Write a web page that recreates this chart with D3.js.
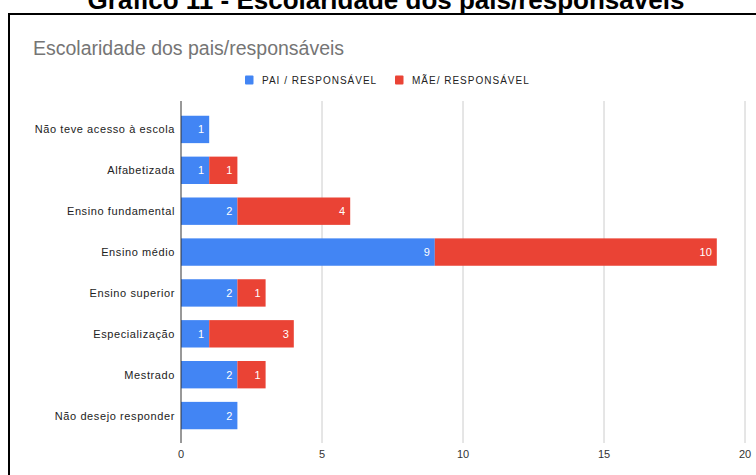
<!DOCTYPE html>
<html>
<head>
<meta charset="utf-8">
<script src="https://cdn.jsdelivr.net/npm/d3@7"></script>
<style>
  html, body { margin: 0; padding: 0; background: #fff; }
  svg { display: block; font-family: "Liberation Sans", Arial, sans-serif; }
</style>
</head>
<body>
<svg id="chart" width="756" height="475"></svg>
<script>
const categories = [
  "Não teve acesso à escola",
  "Alfabetizada",
  "Ensino fundamental",
  "Ensino médio",
  "Ensino superior",
  "Especialização",
  "Mestrado",
  "Não desejo responder"
];
const paiValues = [1, 1, 2, 9, 2, 1, 2, 2];
const maeValues = [0, 1, 4, 10, 1, 3, 1, 0];
const seriesNames = ["PAI / RESPONSÁVEL", "MÃE/ RESPONSÁVEL"];
const seriesColors = ["#4285F4", "#EA4335"];
const xTicks = [0, 5, 10, 15, 20];

const svg = d3.select("#chart");

// Outer heading (cut off at top, as in the source page)
svg.append("text")
  .attr("x", 386).attr("y", 9)
  .attr("text-anchor", "middle")
  .attr("font-weight", "bold")
  .attr("font-size", 26)
  .attr("fill", "#000")
  .text("Gráfico 11 - Escolaridade dos pais/responsáveis");

// Black frame
svg.append("path")
  .attr("d", "M9,475 L9,14 L756,14")
  .attr("fill", "none")
  .attr("stroke", "#000")
  .attr("stroke-width", 2);

// Chart title
svg.append("text")
  .attr("x", 33).attr("y", 55)
  .attr("font-size", 19.5)
  .attr("fill", "#757575")
  .text("Escolaridade dos pais/responsáveis");

// Legend
const legendX = [245, 395];
seriesNames.forEach((name, i) => {
  svg.append("rect")
    .attr("x", legendX[i]).attr("y", 75.5)
    .attr("width", 8.5).attr("height", 9)
    .attr("rx", 1)
    .attr("fill", seriesColors[i]);
  svg.append("text")
    .attr("x", legendX[i] + 17).attr("y", 84)
    .attr("font-size", 10)
    .attr("letter-spacing", "1px")
    .attr("fill", "#222")
    .text(name);
});

// Scales
const x = d3.scaleLinear().domain([0, 20]).range([181, 745]);
const y = d3.scaleBand().domain(categories).range([109, 436]).paddingInner(0.33).paddingOuter(0.165);

const plotTop = 101, plotBottom = 443;

// Gridlines
svg.append("g").selectAll("line")
  .data(xTicks.filter(d => d !== 0))
  .join("line")
  .attr("x1", d => x(d)).attr("x2", d => x(d))
  .attr("y1", plotTop).attr("y2", plotBottom)
  .attr("stroke", "#cccccc")
  .attr("stroke-width", 1);

// Tick labels
svg.append("g").selectAll("text")
  .data(xTicks)
  .join("text")
  .attr("x", d => x(d)).attr("y", 458)
  .attr("text-anchor", "middle")
  .attr("font-size", 11)
  .attr("fill", "#333")
  .text(d => d);

// Stacked data
const rows = categories.map((c, i) => ({ cat: c, pai: paiValues[i], mae: maeValues[i] }));
const stack = d3.stack().keys(["pai", "mae"])(rows);

stack.forEach((layer, si) => {
  const g = svg.append("g");
  g.selectAll("rect")
    .data(layer.filter(d => d[1] - d[0] > 0))
    .join("rect")
    .attr("x", d => x(d[0]))
    .attr("y", d => y(d.data.cat))
    .attr("width", d => x(d[1]) - x(d[0]))
    .attr("height", y.bandwidth())
    .attr("fill", seriesColors[si]);
  g.selectAll("text")
    .data(layer.filter(d => d[1] - d[0] > 0))
    .join("text")
    .attr("x", d => x(d[1]) - 5)
    .attr("y", d => y(d.data.cat) + y.bandwidth() / 2 + 4)
    .attr("text-anchor", "end")
    .attr("font-size", 11)
    .attr("fill", "#fff")
    .text(d => d[1] - d[0]);
});

// Zero axis line
svg.append("line")
  .attr("x1", x(0)).attr("x2", x(0))
  .attr("y1", plotTop).attr("y2", plotBottom)
  .attr("stroke", "#333")
  .attr("stroke-width", 1);

// Category labels
svg.append("g").selectAll("text")
  .data(categories)
  .join("text")
  .attr("x", 175)
  .attr("y", d => y(d) + y.bandwidth() / 2 + 4)
  .attr("text-anchor", "end")
  .attr("font-size", 11)
  .attr("letter-spacing", "0.6px")
  .attr("fill", "#222")
  .text(d => d);
</script>
</body>
</html>
